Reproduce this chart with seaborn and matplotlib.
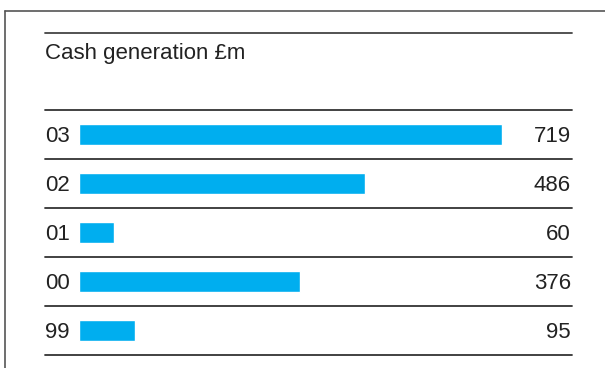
import pandas as pd
import matplotlib.pyplot as plt
import seaborn as sns
from matplotlib.lines import Line2D
from matplotlib.transforms import blended_transform_factory

# data
years = ['03', '02', '01', '00', '99']
cash = [719, 486, 60, 376, 95]
title = 'Cash generation £m'

df = pd.DataFrame({'year': years, 'cash': cash})

sns.set_style('white')
plt.rcParams['font.family'] = ['Liberation Sans', 'DejaVu Sans']

W, H = 605, 368
fig = plt.figure(figsize=(W / 100, H / 100), dpi=100)

# axes spans bar area: x 79..572 px, y 110..355 px
ax = fig.add_axes([79 / W, 1 - 355 / H, (572 - 79) / W, (355 - 110) / H])
sns.barplot(data=df, x='cash', y='year', orient='h', color='#00aeef',
            saturation=1, width=0.41, ax=ax)
ax.set_xlim(0, 837)
ax.set_ylim(len(years) - 0.5, -0.5)
ax.axis('off')

txt = '#222222'
line_c = '#333333'
left = (45 - 79) / (572 - 79)

# row separators
for k in range(len(years) + 1):
    ax.axhline(k - 0.5, xmin=left, xmax=1, color=line_c, lw=1.3, clip_on=False)

# labels and values
tr = blended_transform_factory(fig.transFigure, ax.transData)
for i, (y, v) in enumerate(zip(years, cash)):
    ax.text(45 / W, i + 0.16, y, transform=tr, ha='left', va='baseline',
            fontsize=16, color=txt)
    ax.text(571 / W, i + 0.16, str(v), transform=tr, ha='right', va='baseline',
            fontsize=16, color=txt)

# title and top rule
fig.add_artist(Line2D([45 / W, 572 / W], [1 - 33 / H] * 2, color='#444444', lw=1.3))
fig.text(45 / W, 1 - 58.5 / H, title, ha='left', va='baseline', fontsize=16, color=txt)

# frame lines (left and top)
fig.add_artist(Line2D([4.5 / W, 4.5 / W], [0, 1 - 10.5 / H], color='#555555', lw=1.2))
fig.add_artist(Line2D([4.5 / W, 1], [1 - 10.5 / H] * 2, color='#555555', lw=1.2))

fig.savefig('out.png', dpi=100)
